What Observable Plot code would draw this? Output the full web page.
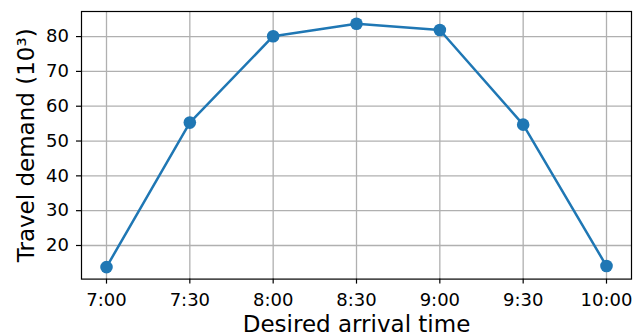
<!DOCTYPE html>
<html>
<head>
<meta charset="utf-8">
<script src="https://cdn.jsdelivr.net/npm/d3@7"></script>
<script src="https://cdn.jsdelivr.net/npm/@observablehq/plot@0.6"></script>
<style>
  html, body { margin: 0; padding: 0; background: #fff; }
  #chart { width: 633px; height: 336px; }
</style>
</head>
<body>
<div id="chart"></div>
<script>
// Data
const times = ["7:00", "7:30", "8:00", "8:30", "9:00", "9:30", "10:00"];
const demand = [13.8, 55.3, 80.1, 83.7, 81.9, 54.7, 14.1]; // thousands
const yTicks = [20, 30, 40, 50, 60, 70, 80];
const xLabel = "Desired arrival time";
const yLabel = "Travel demand (10³)";

const toMin = t => { const [h, m] = t.split(":").map(Number); return (h - 7) * 60 + m; };
const data = times.map((t, i) => ({ t, x: toMin(t), y: demand[i] }));
const xTicks = times.map(toMin);
const fmt = new Map(times.map(t => [toMin(t), t]));

const blue = "#1f77b4";
const chart = Plot.plot({
  width: 633,
  height: 336,
  marginLeft: 81,
  marginRight: 2,
  marginTop: 11,
  marginBottom: 57.4,
  style: { fontFamily: "DejaVu Sans", fontSize: "18px", color: "#000", background: "#fff" },
  x: { domain: [-9, 189] },
  y: { domain: [10.35, 87.2] },
  marks: [
    Plot.gridX(xTicks, { stroke: "#b0b0b0", strokeOpacity: 1, strokeWidth: 1.3 }),
    Plot.gridY(yTicks, { stroke: "#b0b0b0", strokeOpacity: 1, strokeWidth: 1.3 }),
    Plot.axisX(xTicks, { tickFormat: d => fmt.get(d), tickSize: 5, tickPadding: 9, strokeWidth: 1.2, label: null, fontSize: 18 }),
    Plot.axisY(yTicks, { tickSize: 5, tickPadding: 7.5, strokeWidth: 1.2, label: null, fontSize: 18 }),
    Plot.line(data, { x: "x", y: "y", stroke: blue, strokeWidth: 2.5 }),
    Plot.dot(data, { x: "x", y: "y", fill: blue, r: 6.3, stroke: null }),
    Plot.frame({ stroke: "#000", strokeWidth: 1.2 }),
    Plot.text([xLabel], { frameAnchor: "bottom", textAnchor: "middle", dy: 52.4, lineAnchor: "bottom", fontSize: 23, text: d => d }),
    Plot.text([yLabel], { frameAnchor: "left", textAnchor: "middle", dx: -48, lineAnchor: "bottom", rotate: -90, fontSize: 23, text: d => d })
  ]
});
document.getElementById("chart").appendChild(chart);
</script>
</body>
</html>
